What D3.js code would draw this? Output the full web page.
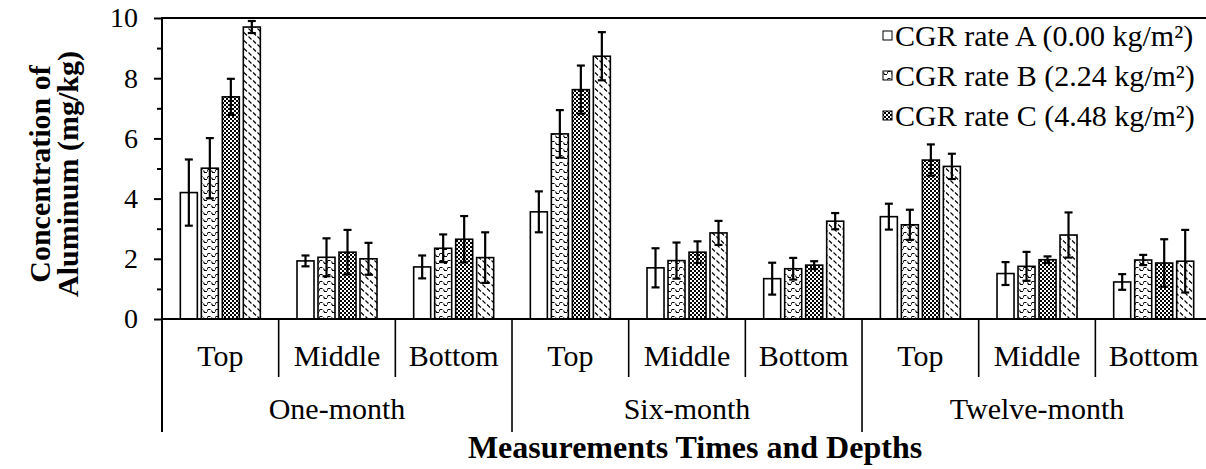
<!DOCTYPE html>
<html>
<head>
<meta charset="utf-8">
<script src="https://cdn.jsdelivr.net/npm/d3@7"></script>
<style>
  body { margin: 0; background: #fff; }
  svg { display: block; font-family: "Liberation Serif", "Times New Roman", serif; }
</style>
</head>
<body>
<svg id="chart" width="1206" height="469" font-family="Liberation Serif, Times New Roman, serif"></svg>
<script>
const times = ["One-month", "Six-month", "Twelve-month"];
const depths = ["Top", "Middle", "Bottom"];
const seriesKeys = ["A", "B", "C", "D"];
const legendLabels = ["CGR rate A (0.00 kg/m²)", "CGR rate B (2.24 kg/m²)", "CGR rate C (4.48 kg/m²)"];

// values per group: one-month top/middle/bottom, six-month ..., twelve-month ...
const rateA = [4.20, 1.93, 1.73, 3.56, 1.70, 1.34, 3.40, 1.51, 1.23];
const rateB = [5.01, 2.05, 2.35, 6.15, 1.94, 1.67, 3.13, 1.75, 1.96];
const rateC = [7.38, 2.22, 2.65, 7.62, 2.22, 1.79, 5.28, 1.97, 1.86];
const rateD = [9.70, 2.00, 2.04, 8.73, 2.86, 3.25, 5.07, 2.79, 1.92];
const errA = [1.10, 0.18, 0.38, 0.68, 0.65, 0.53, 0.43, 0.38, 0.26];
const errB = [1.00, 0.63, 0.46, 0.79, 0.60, 0.36, 0.50, 0.48, 0.17];
const errC = [0.60, 0.74, 0.77, 0.80, 0.36, 0.13, 0.52, 0.11, 0.79];
const errD = [0.20, 0.53, 0.84, 0.80, 0.40, 0.27, 0.42, 0.75, 1.04];
const yTicks = [0, 2, 4, 6, 8, 10];
const yMinorTicks = [1, 3, 5, 7, 9];

const values = { A: rateA, B: rateB, C: rateC, D: rateD };
const errors = { A: errA, B: errB, C: errC, D: errD };

const groups = [];
times.forEach((t) => depths.forEach((d) => groups.push({ time: t, depth: d, i: groups.length })));

const svg = d3.select("#chart");
const plotLeft = 162, plotTop = 18, plotBottom = 319;
const groupW = 116.67;
const serif = "Liberation Serif, Times New Roman, serif";

const x0 = d3.scaleBand().domain(groups.map((g) => g.i)).range([plotLeft, plotLeft + groupW * groups.length]);
const x1 = d3.scaleBand().domain(seriesKeys).range([0, x0.bandwidth()]).paddingInner(4 / 21).paddingOuter(0.873);
const y = d3.scaleLinear().domain([0, 10]).range([plotBottom, plotTop]);

// patterns
const defs = svg.append("defs");
const pB = defs.append("pattern").attr("id", "patB").attr("patternUnits", "userSpaceOnUse").attr("width", 8).attr("height", 7);
pB.append("rect").attr("width", 8).attr("height", 7).attr("fill", "#fff");
pB.append("path").attr("d", "M0,1.5 H2.5 M3.5,2.5 L4.5,4.5 H7 M7.5,3.5 L8,1.5").attr("stroke", "#000").attr("stroke-width", 1.1).attr("fill", "none");

const pC = defs.append("pattern").attr("id", "patC").attr("patternUnits", "userSpaceOnUse").attr("width", 4).attr("height", 4);
pC.append("rect").attr("width", 4).attr("height", 4).attr("fill", "#fff");
pC.append("rect").attr("width", 2).attr("height", 2).attr("fill", "#000");
pC.append("rect").attr("x", 2).attr("y", 2).attr("width", 2).attr("height", 2).attr("fill", "#000");

const pD = defs.append("pattern").attr("id", "patD").attr("patternUnits", "userSpaceOnUse").attr("width", 9).attr("height", 8);
pD.append("rect").attr("width", 9).attr("height", 8).attr("fill", "#fff");
pD.append("path").attr("d", "M1,0.5 L4,3.5 M5.5,4.5 L8.5,7.5").attr("stroke", "#000").attr("stroke-width", 1.1).attr("fill", "none");

const fills = { A: "#fff", B: "url(#patB)", C: "url(#patC)", D: "url(#patD)" };

// top border
svg.append("line").attr("x1", plotLeft).attr("x2", 1212).attr("y1", plotTop).attr("y2", plotTop).attr("stroke", "#000").attr("stroke-width", 2);

// bars
const gBars = svg.append("g");
groups.forEach((g) => {
  seriesKeys.forEach((k) => {
    const v = values[k][g.i];
    gBars.append("rect")
      .attr("x", x0(g.i) + x1(k))
      .attr("y", y(v))
      .attr("width", x1.bandwidth())
      .attr("height", y(0) - y(v))
      .attr("fill", fills[k])
      .attr("stroke", "#000")
      .attr("stroke-width", 1.6);
  });
});

// error bars
const gErr = svg.append("g").attr("stroke", "#000").attr("stroke-width", 2.2);
groups.forEach((g) => {
  seriesKeys.forEach((k) => {
    const v = values[k][g.i], e = errors[k][g.i];
    const cx = x0(g.i) + x1(k) + x1.bandwidth() / 2;
    gErr.append("line").attr("x1", cx).attr("x2", cx).attr("y1", y(v - e)).attr("y2", y(v + e));
    gErr.append("line").attr("x1", cx - 4).attr("x2", cx + 4).attr("y1", y(v - e)).attr("y2", y(v - e));
    gErr.append("line").attr("x1", cx - 4).attr("x2", cx + 4).attr("y1", y(v + e)).attr("y2", y(v + e));
  });
});

svg.append("line").attr("x1", plotLeft).attr("x2", 1212).attr("y1", plotBottom).attr("y2", plotBottom).attr("stroke", "#000").attr("stroke-width", 2);

// y axis
const yAxis = svg.append("g")
  .attr("transform", `translate(${plotLeft},0)`)
  .call(d3.axisLeft(y).tickValues(yTicks).tickSize(8).tickPadding(16).tickFormat(d3.format("d")));
yAxis.attr("font-family", serif).attr("font-size", 28);
yAxis.select(".domain").remove();
yAxis.selectAll("line").attr("stroke", "#000").attr("stroke-width", 2);
yAxis.selectAll("text").attr("fill", "#000");

const yMinor = svg.append("g")
  .attr("transform", `translate(${plotLeft},0)`)
  .call(d3.axisLeft(y).tickValues(yMinorTicks).tickSize(5).tickFormat(""));
yMinor.select(".domain").remove();
yMinor.selectAll("line").attr("stroke", "#000").attr("stroke-width", 2);

svg.append("line").attr("x1", plotLeft).attr("x2", plotLeft).attr("y1", plotTop - 1).attr("y2", 432).attr("stroke", "#000").attr("stroke-width", 2);

// category separators
d3.range(1, groups.length + 1).forEach((i) => {
  const x = plotLeft + groupW * i;
  svg.append("line").attr("x1", x).attr("x2", x).attr("y1", plotBottom).attr("y2", i % 3 === 0 ? 432 : 377)
    .attr("stroke", "#000").attr("stroke-width", 1.6);
});

// depth labels
svg.append("g").attr("font-family", serif).selectAll("text").data(groups).join("text")
  .attr("x", (d) => x0(d.i) + x0.bandwidth() / 2)
  .attr("y", 366)
  .attr("text-anchor", "middle")
  .attr("font-size", 30)
  .text((d) => d.depth);

// time labels
svg.append("g").attr("font-family", serif).selectAll("text").data(times).join("text")
  .attr("x", (d, i) => plotLeft + groupW * (i * 3 + 1.5))
  .attr("y", 419)
  .attr("text-anchor", "middle")
  .attr("font-size", 30)
  .text((d) => d);

// axis titles
svg.append("text")
  .attr("x", 695).attr("y", 458)
  .attr("text-anchor", "middle")
  .attr("font-family", serif)
  .attr("font-size", 32).attr("font-weight", "bold")
  .text("Measurements Times and Depths");

const yTitle = svg.append("text")
  .attr("transform", "translate(0,174) rotate(-90)")
  .attr("text-anchor", "middle")
  .attr("font-family", serif)
  .attr("font-size", 30).attr("font-weight", "bold");
yTitle.append("tspan").attr("x", 0).attr("y", 50).text("Concentration of");
yTitle.append("tspan").attr("x", 0).attr("y", 78).text("Aluminum (mg/kg)");

// legend
const legend = svg.append("g").attr("font-family", serif);
legendLabels.forEach((lab, i) => {
  const ly = 36 + i * 40;
  legend.append("rect").attr("x", 883).attr("y", ly - 5).attr("width", 9).attr("height", 9)
    .attr("fill", fills[seriesKeys[i]]).attr("stroke", "#000").attr("stroke-width", 1);
  legend.append("text").attr("x", 895).attr("y", ly + 10).attr("font-size", 30).text(lab);
});
</script>
</body>
</html>
